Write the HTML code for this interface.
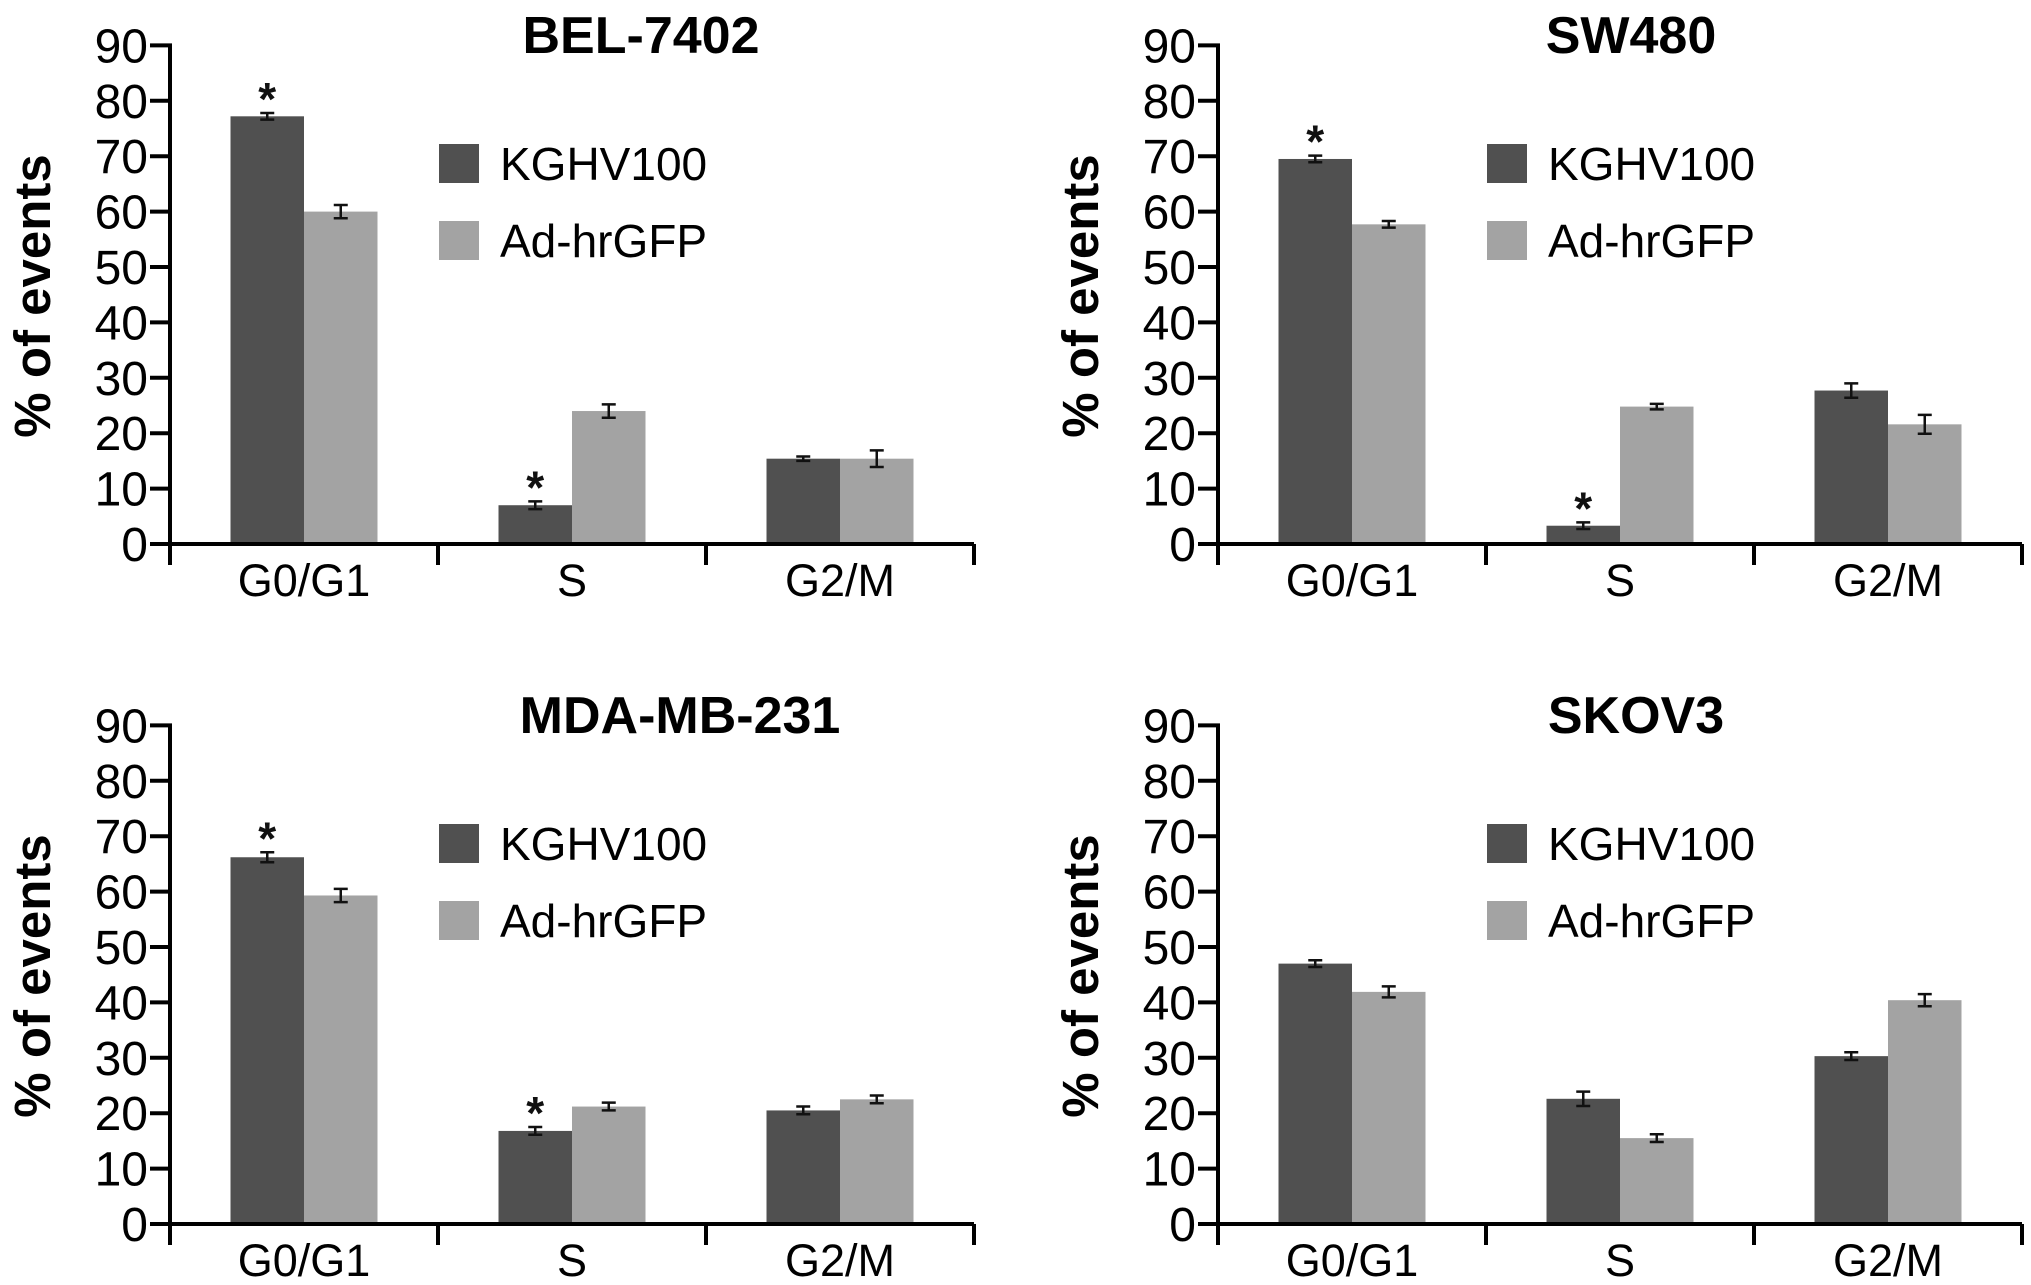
<!DOCTYPE html>
<html><head><meta charset="utf-8"><style>
html,body{margin:0;padding:0;background:#fff;}
svg{display:block;font-family:"Liberation Sans",Arial,sans-serif;}
</style></head><body>
<svg id="fig" width="2031" height="1285" viewBox="0 0 2031 1285"></svg>
<script>
const categories = ["G0/G1","S","G2/M"];
const seriesNames = ["KGHV100","Ad-hrGFP"];
const yTicks = [0,10,20,30,40,50,60,70,80,90];
const panelTitles = ["BEL-7402","SW480","MDA-MB-231","SKOV3"];
const belK = [77.2,7.0,15.4], belKErr=[0.6,0.7,0.4];
const belA = [60.0,24.0,15.4], belAErr=[1.2,1.2,1.5];
const swK = [69.5,3.3,27.7], swKErr=[0.6,0.6,1.3];
const swA = [57.7,24.8,21.6], swAErr=[0.6,0.5,1.7];
const mdaK = [66.2,16.8,20.5], mdaKErr=[0.9,0.7,0.7];
const mdaA = [59.3,21.2,22.5], mdaAErr=[1.2,0.7,0.7];
const skK = [47.0,22.6,30.3], skKErr=[0.6,1.3,0.7];
const skA = [41.9,15.5,40.4], skAErr=[1.0,0.7,1.1];
const belStars=[true,true,false], swStars=[true,true,false], mdaStars=[true,true,false], skStars=[false,false,false];

const NS="http://www.w3.org/2000/svg";
const svg=document.getElementById('fig');
function mk(tag,attrs,parent){const e=document.createElementNS(NS,tag);for(const k in attrs)e.setAttribute(k,attrs[k]);(parent||svg).appendChild(e);return e;}

const panels=[
 {ox:0,oy:0,k:belK,ke:belKErr,a:belA,ae:belAErr,st:belStars,tx:641},
 {ox:1048,oy:0,k:swK,ke:swKErr,a:swA,ae:swAErr,st:swStars,tx:1631},
 {ox:0,oy:680,k:mdaK,ke:mdaKErr,a:mdaA,ae:mdaAErr,st:mdaStars,tx:680},
 {ox:1048,oy:680,k:skK,ke:skKErr,a:skA,ae:skAErr,st:skStars,tx:1636}
];
const DARK="#505050", LIGHT="#a3a3a3";
panels.forEach((p,pi)=>{
  const g=mk('g',{});
  
  
  const ax=170+p.ox, y0=544+p.oy, ppu=5.54, xEnd=974+p.ox;
  const yS=v=>y0-v*ppu;
  const catW=(xEnd-ax)/3, bw=73.5;
  const xC=i=>ax+catW*(i+0.5);
  categories.forEach((c,i)=>{
    [[p.k,p.ke,DARK,-1,'kghv100'],[p.a,p.ae,LIGHT,0,'ad-hrgfp']].forEach(([vals,errs,col,off,nm])=>{
      const x=xC(i)+off*bw;
      const r=mk('rect',{x:x,y:yS(vals[i]),width:bw,height:y0-yS(vals[i]),fill:col},g);
      
      
      const cx=x+bw/2, t=yS(vals[i]+errs[i]), b=yS(vals[i]-errs[i]);
      const e=mk('path',{d:`M${cx},${t}V${b}M${cx-7},${t}H${cx+7}M${cx-7},${b}H${cx+7}`,stroke:'#111','stroke-width':2.5,fill:'none'},g);
      
      
    });
    if(p.st[i]){
      const s=mk('text',{x:xC(i)-bw/2,y:yS(p.k[i]+p.ke[i])+2,'text-anchor':'middle','font-size':46,'font-weight':'bold',fill:'#111'},g);
      s.textContent='*';
      
      
    }
  });
  const axes=mk('path',{d:`M${ax},${yS(90)-2}V${y0+21}M${ax-20},${y0}H${xEnd}`+[1,2,3].map(i=>`M${ax+catW*i},${y0}V${y0+21}`).join('')+yTicks.map(v=>`M${ax-20},${yS(v)}H${ax}`).join(''),stroke:'#000','stroke-width':4,fill:'none'},g);
  
  
  yTicks.forEach(v=>{
    const t=mk('text',{x:ax-22,y:yS(v)+17,'text-anchor':'end','font-size':48,fill:'#000'},g);
    t.textContent=v;
    
    
  });
  categories.forEach((c,i)=>{
    const t=mk('text',{x:xC(i),y:y0+52,'text-anchor':'middle','font-size':45,fill:'#000'},g);
    t.textContent=c;
    
    
  });
  const yl=mk('text',{x:0,y:0,transform:`translate(${p.ox+50},${p.oy+296}) rotate(-90)`,'text-anchor':'middle','font-size':51,'font-weight':'bold',fill:'#000'},g);
  yl.textContent='% of events';
  
  
  const tt=mk('text',{x:p.tx,y:p.oy+53,'text-anchor':'middle','font-size':52,'font-weight':'bold',fill:'#000'},g);
  tt.textContent=panelTitles[pi];
  
  
  seriesNames.forEach((n,si)=>{
    const ly=p.oy+144+si*77;
    const sw=mk('rect',{x:ax+269,y:ly,width:40,height:39,fill:si?LIGHT:DARK},g);
    
    
    const lt=mk('text',{x:ax+330,y:ly+36,'font-size':46,fill:'#000'},g);
    lt.textContent=n;
    
    
  });
});
</script>
</body></html>
